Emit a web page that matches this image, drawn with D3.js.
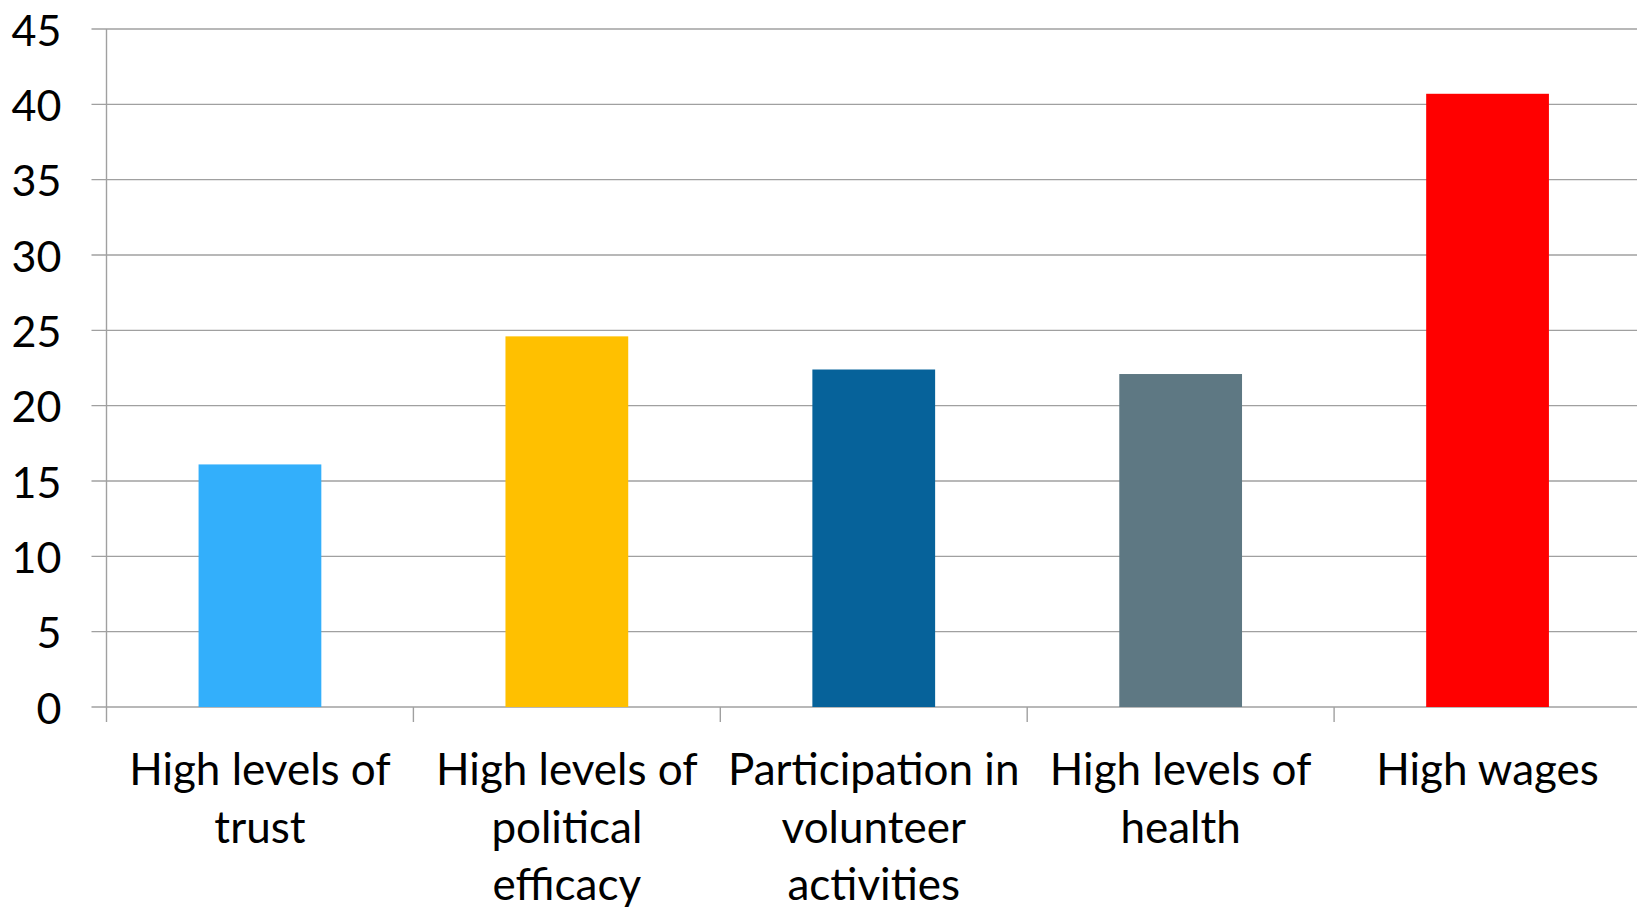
<!DOCTYPE html>
<html><head><meta charset="utf-8">
<script src="https://cdn.jsdelivr.net/npm/d3@7"></script>
<style>html,body{margin:0;padding:0;background:#fff;overflow:hidden}</style>
</head><body>
<svg id="chart" width="1637" height="907"></svg>
<script>
const categories = ["High levels of trust", "High levels of political efficacy", "Participation in volunteer activities", "High levels of health", "High wages"];
const labelLines = [["High levels of","trust"],["High levels of","political","efficacy"],["Participation in","volunteer","activities"],["High levels of","health"],["High wages"]];
const values = [16.1, 24.6, 22.4, 22.1, 40.7];
const colors = ["#33AFFB", "#FFC000", "#06629A", "#5E7883", "#FF0000"];
const yTicks = [0,5,10,15,20,25,30,35,40,45];

(function(){
const svg = d3.select("#chart");
const fontFam = "Lato, 'Noto Sans', sans-serif";
const mLeft = 106.5, mRight = 1641, mTop = 29, mBottom = 707;
const x = d3.scaleBand().domain(categories).range([mLeft, mRight]).paddingInner(0).paddingOuter(0);
const y = d3.scaleLinear().domain([0,45]).range([mBottom, mTop]);

svg.append("g").selectAll("line").data(yTicks).join("line")
  .attr("x1", mLeft - 15).attr("x2", 1637)
  .attr("y1", d => y(d)).attr("y2", d => y(d))
  .attr("stroke", "#a0a0a0").attr("stroke-width", 1.4);

svg.append("line").attr("x1", mLeft).attr("x2", mLeft).attr("y1", mTop).attr("y2", mBottom + 15)
  .attr("stroke", "#a0a0a0").attr("stroke-width", 1.4);

svg.append("g").selectAll("line").data(categories.slice(1)).join("line")
  .attr("x1", d => x(d)).attr("x2", d => x(d))
  .attr("y1", mBottom).attr("y2", mBottom + 15)
  .attr("stroke", "#a0a0a0").attr("stroke-width", 1.4);

const bw = x.bandwidth() * 0.4;
svg.append("g").selectAll("rect").data(values).join("rect")
  .attr("x", (d,i) => x(categories[i]) + x.bandwidth()/2 - bw/2)
  .attr("width", bw)
  .attr("y", d => y(d))
  .attr("height", d => y(0) - y(d))
  .attr("fill", (d,i) => colors[i]);

svg.append("g").selectAll("text").data(yTicks).join("text")
  .attr("x", 61.5).attr("y", d => y(d))
  .attr("text-anchor", "end").attr("dominant-baseline", "central")
  .attr("font-family", fontFam).attr("font-size", 43).attr("fill", "#000")
  .text(d => d);

const xl = svg.append("g").selectAll("text").data(categories).join("text")
  .attr("text-anchor", "middle")
  .attr("font-family", fontFam).attr("font-size", 44).attr("fill", "#000");
xl.each(function(d,i){
  const t = d3.select(this);
  labelLines[i].forEach((ln, j) => {
    t.append("tspan").attr("x", x(d) + x.bandwidth()/2).attr("y", 785 + j*57.6).text(ln);
  });
});
})();
</script>
</body></html>
